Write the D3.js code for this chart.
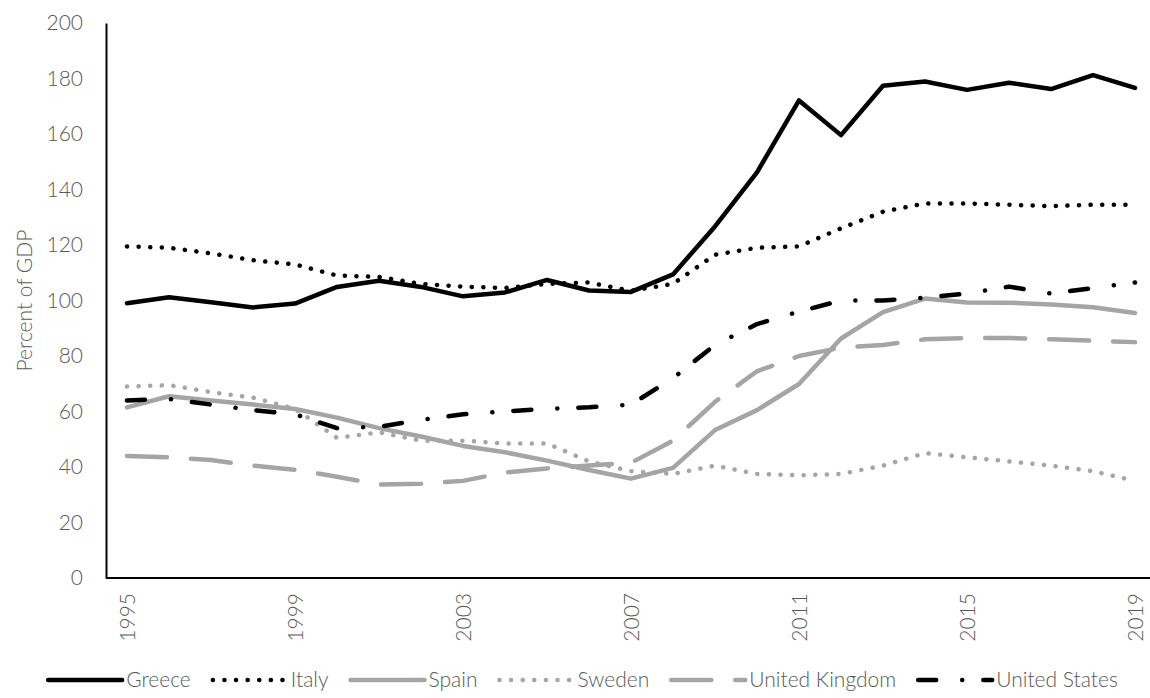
<!DOCTYPE html>
<html>
<head>
<meta charset="utf-8">
<script src="https://cdn.jsdelivr.net/npm/d3@7"></script>
<style>
  body { margin: 0; background: #fff; }
  svg { display: block; font-family: Lato, "Open Sans", sans-serif; font-weight: 300; }
  .tick-label { fill: #595959; font-size: 21px; font-family: Lato, "Open Sans", sans-serif; font-weight: 300; }
  .legend-text { fill: #595959; font-size: 21px; }
</style>
</head>
<body>
<div id="chart"></div>
<script>
var W = 1150, H = 698;

var years = d3.range(1995, 2020);
var yTicks = [0, 20, 40, 60, 80, 100, 120, 140, 160, 180, 200];
var xTickYears = [1995, 1999, 2003, 2007, 2011, 2015, 2019];

var greece = [99.0, 101.2, 99.4, 97.5, 98.9, 104.9, 107.1, 104.9, 101.5, 102.9, 107.4, 103.6, 103.1, 109.4, 126.7, 146.2, 172.1, 159.6, 177.4, 178.9, 175.9, 178.5, 176.2, 181.2, 176.6];
var italy = [119.5, 119.0, 117.0, 114.5, 113.0, 109.0, 108.5, 106.0, 105.0, 104.5, 106.0, 106.5, 103.5, 106.0, 116.5, 119.0, 119.5, 126.0, 132.0, 135.0, 135.0, 134.5, 134.0, 134.5, 134.5];
var spain = [61.5, 65.5, 64.0, 62.5, 60.9, 57.8, 54.0, 51.0, 47.6, 45.3, 42.3, 38.9, 35.8, 39.7, 53.3, 60.5, 69.9, 86.3, 95.8, 100.7, 99.3, 99.2, 98.6, 97.6, 95.5];
var sweden = [69.0, 69.5, 67.0, 65.0, 61.0, 50.5, 52.5, 49.5, 49.5, 48.5, 48.5, 42.0, 38.5, 37.5, 40.5, 37.5, 37.0, 37.5, 40.5, 45.0, 43.5, 42.0, 40.5, 38.5, 35.0];
var uk = [44.0, 43.5, 42.5, 40.5, 39.0, 36.5, 33.7, 34.0, 35.0, 38.0, 39.5, 40.5, 41.5, 49.5, 63.5, 74.5, 80.0, 83.0, 84.0, 86.0, 86.5, 86.5, 86.0, 85.5, 85.0];
var us = [64.0, 64.5, 62.5, 60.5, 59.0, 54.0, 54.5, 57.0, 59.0, 60.0, 61.0, 61.5, 62.5, 72.0, 84.0, 91.5, 96.0, 100.0, 100.0, 101.0, 102.5, 105.0, 102.5, 104.5, 106.5];

var BLACK = '#000000', GREY = '#A5A5A5';
var SERIES = [
  {name: 'Greece', values: greece, color: BLACK, dash: null},
  {name: 'Italy', values: italy, color: BLACK, dash: '0.1 11.5'},
  {name: 'Spain', values: spain, color: GREY, dash: null},
  {name: 'Sweden', values: sweden, color: GREY, dash: '0.1 11.5'},
  {name: 'United Kingdom', values: uk, color: GREY, dash: '40 24'},
  {name: 'United States', values: us, color: BLACK, dash: '18 26 0.1 21'}
];

var LEFT = 106, RIGHT = 1156, TOP = 23, BOTTOM = 578;

var svg = d3.select('#chart').append('svg').attr('width', W).attr('height', H);

var x = d3.scalePoint().domain(years).range([LEFT, RIGHT]).padding(0.5);
var y = d3.scaleLinear().domain([0, 200]).range([BOTTOM, TOP]);

// y axis
var yAxis = svg.append('g')
  .attr('transform', 'translate(' + LEFT + ',0)')
  .call(d3.axisLeft(y).tickValues(yTicks).tickSize(0).tickPadding(23))
  .attr('font-family', null).attr('font-size', null);
yAxis.select('.domain').attr('stroke', '#000').attr('stroke-width', 2);
yAxis.selectAll('text').attr('class', 'tick-label');

// x axis
var xAxis = svg.append('g')
  .attr('transform', 'translate(0,' + BOTTOM + ')')
  .call(d3.axisBottom(x).tickValues(xTickYears).tickSize(0))
  .attr('font-family', null).attr('font-size', null);
xAxis.select('.domain').attr('stroke', '#000').attr('stroke-width', 2).attr('d', 'M' + LEFT + ',0H' + W);
xAxis.selectAll('text')
  .attr('class', 'tick-label')
  .attr('transform', 'rotate(-90)')
  .attr('text-anchor', 'end')
  .attr('x', -15).attr('y', 0).attr('dy', '0.35em');

// axis title
svg.append('text')
  .attr('class', 'tick-label')
  .attr('transform', 'translate(32,' + ((TOP + BOTTOM) / 2) + ') rotate(-90)')
  .attr('text-anchor', 'middle')
  .text('Percent of GDP');

// lines
var line = d3.line()
  .x(function(d, i) { return x(years[i]); })
  .y(function(d) { return y(d); });

svg.append('g').selectAll('path')
  .data(SERIES)
  .enter()
  .append('path')
  .attr('d', function(s) { return line(s.values); })
  .attr('fill', 'none')
  .attr('stroke', function(s) { return s.color; })
  .attr('stroke-width', 4.5)
  .attr('stroke-linejoin', 'round')
  .attr('stroke-linecap', 'round')
  .attr('stroke-dasharray', function(s) { return s.dash; });

// legend
var SAMPLE = 74, GAP = 22, LEG_Y = 680;
var legend = svg.append('g');
var items = legend.selectAll('g')
  .data(SERIES)
  .enter()
  .append('g');
items.append('path')
  .attr('d', 'M0,0H' + SAMPLE)
  .attr('fill', 'none')
  .attr('stroke', function(s) { return s.color; })
  .attr('stroke-width', 4.5)
  .attr('stroke-linecap', 'round')
  .attr('stroke-dasharray', function(s) { return s.dash; });
items.append('text')
  .attr('class', 'legend-text')
  .attr('x', SAMPLE + 4)
  .attr('dy', '0.35em')
  .text(function(s) { return s.name; });

var widths = [];
items.each(function() {
  widths.push(SAMPLE + 4 + d3.select(this).select('text').node().getComputedTextLength());
});
var total = d3.sum(widths) + GAP * (widths.length - 1);
var pos = 583 - total / 2;
items.attr('transform', function(d, i) {
  var t = 'translate(' + pos + ',' + LEG_Y + ')';
  pos += widths[i] + GAP;
  return t;
});
</script>
</body>
</html>
